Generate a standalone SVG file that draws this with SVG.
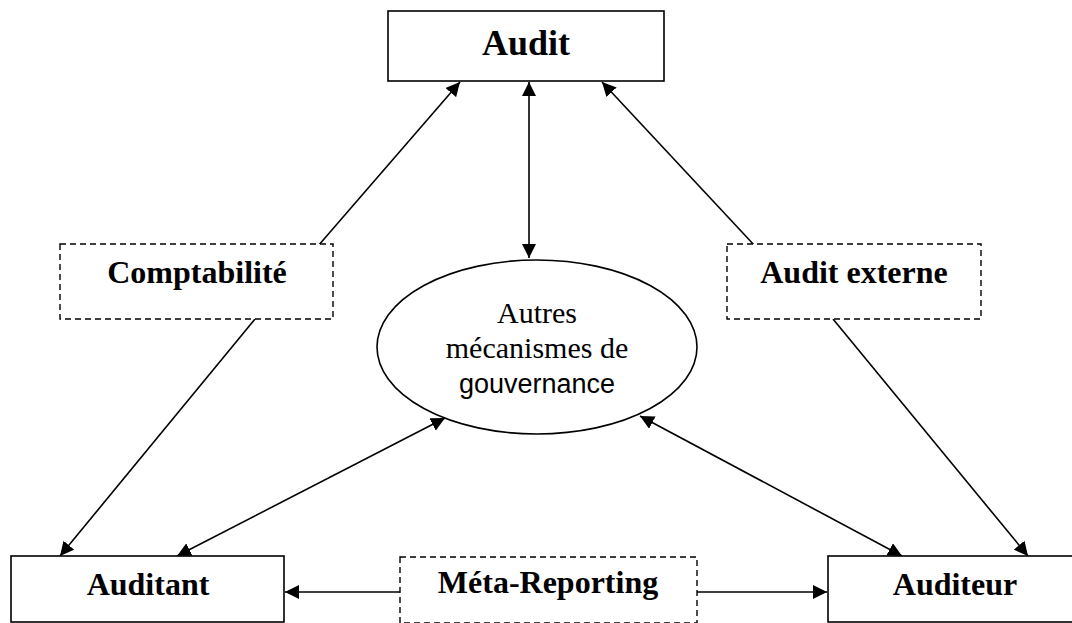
<svg xmlns="http://www.w3.org/2000/svg" width="1072" height="623" viewBox="0 0 1072 623">
<style>
.box{fill:#fff;stroke:#000;stroke-width:1.6}
.dash{fill:#fff;stroke:#000;stroke-width:1.4;stroke-dasharray:6 4}
.lbl{font-family:"Liberation Serif","Times New Roman",serif;font-weight:bold;font-size:32px;text-anchor:middle;fill:#000}
.ser{font-family:"Liberation Serif","Times New Roman",serif;font-size:30px;text-anchor:middle;fill:#000}
.san{font-family:"Liberation Sans",Arial,sans-serif;font-size:27px;text-anchor:middle;fill:#000}
.con{stroke:#000;stroke-width:1.6;fill:none}
</style>
<defs>
<marker id="ah" viewBox="0 0 14 14" markerWidth="14" markerHeight="14" refX="14" refY="7" orient="auto-start-reverse" markerUnits="userSpaceOnUse">
<path d="M0,0 L14,7 L0,14 z" fill="#000"/>
</marker>
</defs>
<rect width="1072" height="623" fill="#fff"/>
<g id="connectors">
<line class="con" x1="318" y1="246" x2="460" y2="82" marker-end="url(#ah)"/>
<line class="con" x1="255" y1="319" x2="60" y2="556" marker-end="url(#ah)"/>
<line class="con" x1="755" y1="246" x2="602" y2="82" marker-end="url(#ah)"/>
<line class="con" x1="833" y1="319" x2="1028" y2="556" marker-end="url(#ah)"/>
<line class="con" x1="529" y1="82" x2="529" y2="258" marker-start="url(#ah)" marker-end="url(#ah)"/>
<line class="con" x1="445" y1="418" x2="177" y2="556" marker-start="url(#ah)" marker-end="url(#ah)"/>
<line class="con" x1="640" y1="416" x2="902" y2="556" marker-start="url(#ah)" marker-end="url(#ah)"/>
<line class="con" x1="400" y1="592" x2="285" y2="592" marker-end="url(#ah)"/>
<line class="con" x1="697" y1="592" x2="827" y2="592" marker-end="url(#ah)"/>
</g>
<g id="audit">
<rect class="box" x="388" y="11" width="276" height="70"/>
<text class="lbl" x="526" y="55" style="font-size:36px">Audit</text>
</g>
<g id="comptabilite">
<rect class="dash" x="60" y="244" width="273" height="75"/>
<text class="lbl" x="197" y="283">Comptabilité</text>
</g>
<g id="audit-externe">
<rect class="dash" x="727" y="244" width="254" height="75"/>
<text class="lbl" x="854" y="283">Audit externe</text>
</g>
<g id="autres">
<ellipse cx="537" cy="347" rx="160" ry="87" fill="#fff" stroke="#000" stroke-width="1.6"/>
<text class="ser" x="537" y="323">Autres</text>
<text class="ser" x="537" y="358">mécanismes de</text>
<text class="san" x="537" y="393">gouvernance</text>
</g>
<g id="auditant">
<rect class="box" x="11" y="556" width="273" height="66"/>
<text class="lbl" x="148" y="595">Auditant</text>
</g>
<g id="meta-reporting">
<rect class="dash" x="400" y="557" width="297" height="66"/>
<text class="lbl" x="548" y="593">Méta-Reporting</text>
</g>
<g id="auditeur">
<rect class="box" x="828" y="556" width="254" height="66"/>
<text class="lbl" x="955" y="595">Auditeur</text>
</g>
</svg>
